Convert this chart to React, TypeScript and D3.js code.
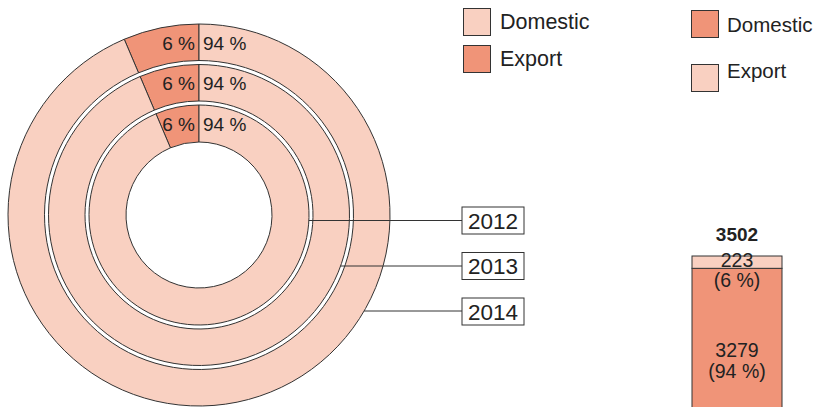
import React from "react";
import * as d3 from "d3";

const years = ["2012", "2013", "2014"];
const exportShare = [6.4, 6.4, 6.4];
const domesticShare = [93.6, 93.6, 93.6];
const donutCategories = ["Export", "Domestic"];
const barCategories = ["Domestic", "Export"];
const barValues = [3279, 223];
const barTotal = 3502;

const LIGHT = "#f9d0c1";
const DARK = "#f09478";
const STROKE = "#333333";
const TEXT = "#222222";
const FONT = "'Liberation Sans', Arial, sans-serif";

export default function App() {
  const W = 815, H = 407;
  const cx = 199, cy = 215;
  const rings = [
    { inner: 73, outer: 110 },
    { inner: 114, outer: 150.5 },
    { inner: 154.5, outer: 191 },
  ];
  const pie = d3.pie<number>().sort(null).value((d) => d);

  const labelY = [220.5, 266, 311];
  const boxY = [207, 252.5, 298];

  const barTop = 256;
  const yScale = d3.scaleLinear().domain([0, barTotal]).range([barTop + 193.6, barTop]);
  const barX = 692, barW = 90;
  const domY0 = yScale(0), domY1 = yScale(barValues[0]);
  const expY0 = yScale(barValues[0]), expY1 = yScale(barValues[0] + barValues[1]);
  const pct = (v: number) => Math.round((v / barTotal) * 100);

  return (
    <svg width={W} height={H} style={{ position: "absolute", left: 0, top: 0 }} fontFamily={FONT}>
      {years.map((y, i) => {
        const share = exportShare[i] / (exportShare[i] + domesticShare[i]);
        const start = -2 * Math.PI * share;
        const arcs = pie.startAngle(start).endAngle(start + 2 * Math.PI)([exportShare[i], domesticShare[i]]);
        const arc = d3.arc<d3.PieArcDatum<number>>().innerRadius(rings[i].inner).outerRadius(rings[i].outer);
        const mid = (rings[i].inner + rings[i].outer) / 2;
        return (
          <g key={y} transform={`translate(${cx},${cy})`}>
            {arcs.map((a, j) => (
              <path key={j} d={arc(a) || ""} fill={donutCategories[j] === "Export" ? DARK : LIGHT} stroke={STROKE} strokeWidth={1} />
            ))}
            <text x={-4} y={-mid + 1} textAnchor="end" dominantBaseline="central" fontSize={19} fill={TEXT}>
              {`${Math.round(exportShare[i])} %`}
            </text>
            <text x={4} y={-mid + 1} textAnchor="start" dominantBaseline="central" fontSize={19} fill={TEXT}>
              {`${Math.round(domesticShare[i])} %`}
            </text>
          </g>
        );
      })}
      {years.map((y, i) => {
        const r = rings[i].outer;
        const dy = labelY[i] - cy;
        const x0 = cx + Math.sqrt(r * r - dy * dy);
        return (
          <g key={"l" + y}>
            <line x1={x0} y1={labelY[i]} x2={462} y2={labelY[i]} stroke={STROKE} strokeWidth={1} />
            <rect x={462} y={boxY[i]} width={62} height={27} fill="#fff" stroke={STROKE} strokeWidth={1} />
            <text x={493} y={boxY[i] + 14} textAnchor="middle" dominantBaseline="central" fontSize={22.5} fill={TEXT}>{y}</text>
          </g>
        );
      })}
      <rect x={463.5} y={8.5} width={27} height={27} fill={LIGHT} stroke={STROKE} strokeWidth={1} />
      <text x={500} y={22} dominantBaseline="central" fontSize={21.5} fill={TEXT}>Domestic</text>
      <rect x={463.5} y={45.5} width={27} height={27} fill={DARK} stroke={STROKE} strokeWidth={1} />
      <text x={500} y={59} dominantBaseline="central" fontSize={21.5} fill={TEXT}>Export</text>
      <rect x={691.5} y={10.5} width={27} height={27} fill={DARK} stroke={STROKE} strokeWidth={1} />
      <text x={727} y={24} dominantBaseline="central" fontSize={20.5} fill={TEXT}>{barCategories[0]}</text>
      <rect x={691.5} y={64.5} width={27} height={27} fill={LIGHT} stroke={STROKE} strokeWidth={1} />
      <text x={727} y={70} dominantBaseline="central" fontSize={20.5} fill={TEXT}>{barCategories[1]}</text>
      <rect x={barX} y={domY1} width={barW} height={domY0 - domY1} fill={DARK} stroke={STROKE} strokeWidth={1} />
      <rect x={barX} y={expY1} width={barW} height={expY0 - expY1} fill={LIGHT} stroke={STROKE} strokeWidth={1} />
      <text x={barX + barW / 2} y={240.5} textAnchor="middle" fontSize={19} fontWeight="bold" fill={TEXT}>{barTotal}</text>
      <text x={barX + barW / 2} y={267} textAnchor="middle" fontSize={19.5} fill={TEXT}>{barValues[1]}</text>
      <text x={barX + barW / 2} y={287} textAnchor="middle" fontSize={19.5} fill={TEXT}>{`(${pct(barValues[1])} %)`}</text>
      <text x={barX + barW / 2} y={357} textAnchor="middle" fontSize={19.5} fill={TEXT}>{barValues[0]}</text>
      <text x={barX + barW / 2} y={378} textAnchor="middle" fontSize={19.5} fill={TEXT}>{`(${pct(barValues[0])} %)`}</text>
    </svg>
  );
}
